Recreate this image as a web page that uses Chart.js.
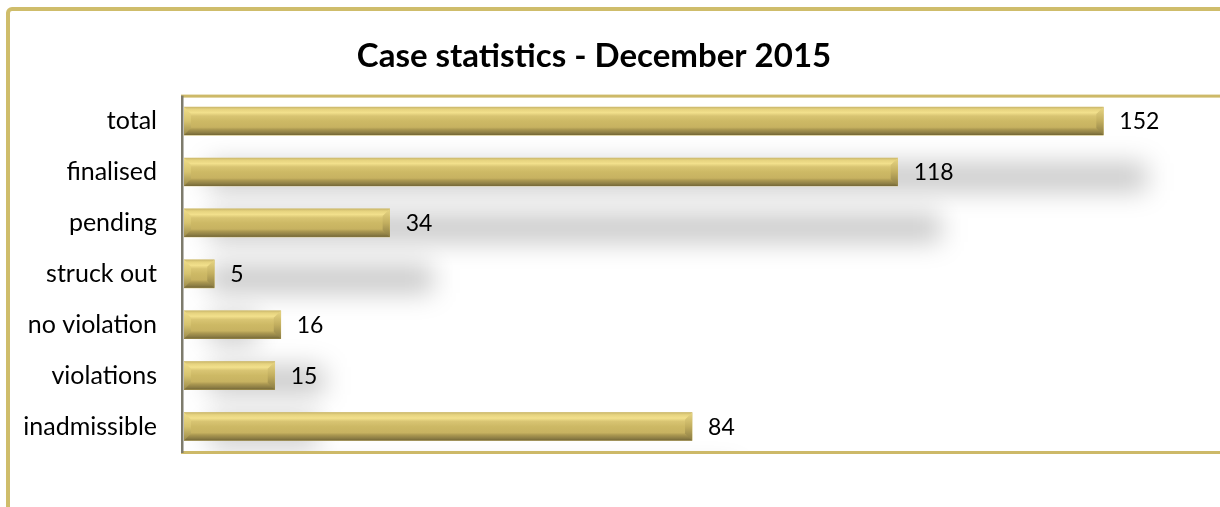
<!DOCTYPE html>
<html>
<head>
<meta charset="utf-8">
<script src="https://cdn.jsdelivr.net/npm/chart.js@4/dist/chart.umd.min.js"></script>
<style>
  body { margin: 0; background: #fff; overflow: hidden; }
  #frame {
    position: absolute; left: 6px; top: 7px;
    width: 1300px; height: 600px;
    border: 4px solid #cfbd6b; border-radius: 6px;
  }
  #wrap { position: absolute; left: 0; top: 0; width: 1220px; height: 507px; }
</style>
</head>
<body>
<div id="frame"></div>
<div id="wrap"><canvas id="my-chart" width="1220" height="507"></canvas></div>
<script>
'use strict';

//  DATA
let categories = ['total', 'finalised', 'pending', 'struck out', 'no violation', 'violations', 'inadmissible'];
let caseCounts = [152, 118, 34, 5, 16, 15, 84];
let chartTitle = 'Case statistics - December 2015';
let xMax = 166;

let fontFamily = 'Lato, "Open Sans", sans-serif';

// SHADOWS BEHIND THE BARS
let shadowPlugin = {
  id: 'barShadows',
  beforeDatasetsDraw(chart) {
    let ctx = chart.ctx;
    let area = chart.chartArea;
    let bars = chart.getDatasetMeta(0).data;
    ctx.save();
    ctx.beginPath();
    ctx.rect(area.left, area.top, area.right + 40 - area.left, area.bottom - area.top);
    ctx.clip();
    ctx.filter = 'blur(13px)';
    ctx.fillStyle = 'rgba(0,0,0,0.22)';
    for (let bar of bars) {
      let p = bar.getProps(['x', 'y', 'base', 'height']);
      ctx.fillRect(p.base + 25, p.y + 56 - p.height / 2, p.x - p.base + 18, p.height);
    }
    ctx.restore();
  }
};

// BEVEL, FRAME LINES AND VALUE LABELS
let bevelPlugin = {
  id: 'bevelBars',
  afterDatasetsDraw(chart) {
    let ctx = chart.ctx;
    let area = chart.chartArea;
    let bars = chart.getDatasetMeta(0).data;
    ctx.save();
    for (let i = 0; i < bars.length; i++) {
      let p = bars[i].getProps(['x', 'y', 'base', 'height']);
      let x0 = p.base;
      let x1 = p.x;
      let yT = p.y - p.height / 2;
      let yB = p.y + p.height / 2;
      let h = p.height;
      let b = Math.min(7, (x1 - x0) / 2);

      let grad = ctx.createLinearGradient(0, yT, 0, yB);
      grad.addColorStop(0, '#cbb86c');
      grad.addColorStop(0.08, '#e6d37f');
      grad.addColorStop(0.2, '#f2e08c');
      grad.addColorStop(0.32, '#d8c472');
      grad.addColorStop(0.5, '#cdb965');
      grad.addColorStop(0.72, '#c7b261');
      grad.addColorStop(0.8, '#ab9851');
      grad.addColorStop(0.92, '#8d7e45');
      grad.addColorStop(1, '#736636');
      ctx.fillStyle = grad;
      ctx.fillRect(x0, yT, x1 - x0, h);

      // right end face
      let rg = ctx.createLinearGradient(0, yT, 0, yB);
      rg.addColorStop(0, '#e8d684');
      rg.addColorStop(0.5, '#c2ae5f');
      rg.addColorStop(1, '#8a7b43');
      ctx.fillStyle = rg;
      ctx.beginPath();
      ctx.moveTo(x1 - b, yT + b);
      ctx.lineTo(x1, yT);
      ctx.lineTo(x1, yB);
      ctx.lineTo(x1 - b, yB - b);
      ctx.closePath();
      ctx.fill();

      // left end face
      let lg = ctx.createLinearGradient(0, yT, 0, yB);
      lg.addColorStop(0, '#f0de8a');
      lg.addColorStop(0.5, '#d6c36f');
      lg.addColorStop(1, '#9c8b4a');
      ctx.fillStyle = lg;
      ctx.beginPath();
      ctx.moveTo(x0, yT);
      ctx.lineTo(x0 + b, yT + b);
      ctx.lineTo(x0 + b, yB - b);
      ctx.lineTo(x0, yB);
      ctx.closePath();
      ctx.fill();

      // value label
      ctx.fillStyle = '#000';
      ctx.font = '23px ' + fontFamily;
      ctx.textAlign = 'left';
      ctx.textBaseline = 'middle';
      ctx.fillText(String(caseCounts[i]), x1 + 16, p.y + 1);
    }

    // plot area top and bottom lines
    ctx.fillStyle = '#cdb968';
    ctx.fillRect(area.left - 3, area.top - 1, chart.width, 3);
    ctx.fillRect(area.left - 3, area.bottom - 1, chart.width, 3);

    // category axis line
    ctx.fillStyle = '#7d7b6c';
    ctx.fillRect(area.left - 3, area.top, 2.5, area.bottom - area.top + 1);
    ctx.restore();
  }
};

let canvasElem = document.getElementById('my-chart');

let theChart = {
  type: 'bar',
  data: {
    labels: categories,
    datasets: [{
      data: caseCounts,
      backgroundColor: '#cdb965',
      borderWidth: 0,
      barThickness: 28
    }]
  },
  options: {
    indexAxis: 'y',
    responsive: false,
    animation: false,
    layout: {
      padding: { left: 0, right: 32, top: 0, bottom: 55 }
    },
    plugins: {
      legend: { display: false },
      tooltip: { enabled: false },
      title: {
        display: true,
        text: chartTitle,
        color: '#000',
        font: { family: fontFamily, size: 33, weight: 'bold' },
        padding: { top: 37, bottom: 19 }
      }
    },
    scales: {
      x: {
        display: false,
        min: 0,
        max: xMax
      },
      y: {
        grid: { display: false, drawTicks: false },
        border: { display: false },
        ticks: {
          color: '#000',
          padding: 27,
          font: { family: fontFamily, size: 25 }
        },
        afterFit(scale) {
          scale.width = 184;
        }
      }
    }
  },
  plugins: [shadowPlugin, bevelPlugin]
};

new Chart(canvasElem, theChart);
</script>
</body>
</html>
